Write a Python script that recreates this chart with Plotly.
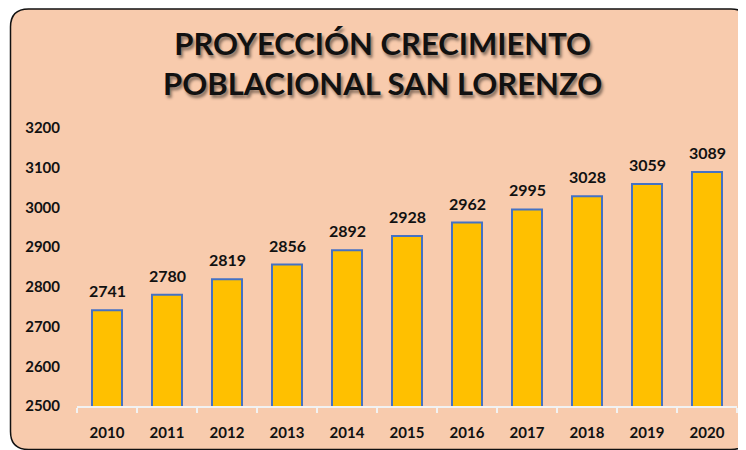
import plotly.graph_objects as go

years = ["2010", "2011", "2012", "2013", "2014", "2015", "2016", "2017", "2018", "2019", "2020"]
population = [2741, 2780, 2819, 2856, 2892, 2928, 2962, 2995, 3028, 3059, 3089]
y_ticks = [2500, 2600, 2700, 2800, 2900, 3000, 3100, 3200]

FONT = "Lato"

# la pagina deja 8px de margen alrededor de la figura
W, H = 738, 442
L, R, T, B = 69, 729, 120, 398

fig = go.Figure()
fig.add_trace(go.Bar(
    x=years,
    y=population,
    marker=dict(color="#FFC000", line=dict(color="#4472C4", width=2)),
    hovertemplate="%{x}: %{y}<extra></extra>",
))

# etiquetas de datos sobre cada barra (x = indice de la categoria)
for i, val in enumerate(population):
    fig.add_annotation(
        x=i, y=val, text=str(val), showarrow=False,
        yanchor="bottom", yshift=8,
        font=dict(family=FONT, size=16, color="#111111", weight="bold"),
    )


def px(x):
    return (x - L) / (R - L)


def py(y):
    return (B - y) / (B - T)


# marco redondeado (area del grafico estilo Excel)
x0, x1, y0, y1, r = 2.5, 741, 1, 441.5, 18
path = (
    f"M {px(x0 + r)},{py(y0)} L {px(x1 - r)},{py(y0)} "
    f"Q {px(x1)},{py(y0)} {px(x1)},{py(y0 + r)} "
    f"L {px(x1)},{py(y1 - r)} Q {px(x1)},{py(y1)} {px(x1 - r)},{py(y1)} "
    f"L {px(x0 + r)},{py(y1)} Q {px(x0)},{py(y1)} {px(x0)},{py(y1 - r)} "
    f"L {px(x0)},{py(y0 + r)} Q {px(x0)},{py(y0)} {px(x0 + r)},{py(y0)} Z"
)
fig.add_shape(type="path", path=path, xref="paper", yref="paper",
              fillcolor="#F8CBAD", line=dict(color="#111111", width=1.5), layer="below")

fig.add_annotation(
    text="PROYECCIÓN CRECIMIENTO<br>POBLACIONAL SAN LORENZO",
    xref="paper", yref="paper", x=px(374), y=py(55),
    xanchor="center", yanchor="middle", showarrow=False,
    font=dict(family=FONT, size=31, color="#111111", weight="bold",
              shadow="2px 3px 3px rgba(0,0,0,0.45)"),
)

fig.update_layout(
    width=W, height=H,
    margin=dict(l=L, r=W - R, t=T, b=H - B),
    paper_bgcolor="white",
    plot_bgcolor="rgba(0,0,0,0)",
    showlegend=False,
    bargap=0.5,
    font=dict(family=FONT, color="#111111"),
)
fig.update_xaxes(
    type="category", range=[-0.5, len(years) - 0.5],
    showline=True, linecolor="#F2F2F2", linewidth=1.5,
    ticks="outside", tickson="boundaries", ticklen=5, tickcolor="#F2F2F2", tickwidth=1.5,
    ticklabelstandoff=12,
    tickfont=dict(family=FONT, size=15, color="#111111", weight="bold"),
    showgrid=False,
)
fig.update_yaxes(
    range=[2500, 3200], tickvals=y_ticks,
    showline=False, showgrid=False, zeroline=False,
    ticklabelstandoff=16,
    tickfont=dict(family=FONT, size=15, color="#111111", weight="bold"),
)

fig.write_html("out.html")
